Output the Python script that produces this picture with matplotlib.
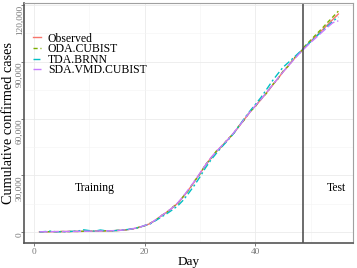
import matplotlib
matplotlib.use("Agg")
import matplotlib.pyplot as plt
from matplotlib.ticker import FuncFormatter, MultipleLocator

days = list(range(1, 56))

observed = [250, 290, 320, 350, 380, 410, 440, 470, 510, 560,
            610, 670, 740, 820, 920, 1100, 1400, 1900, 2600, 3500,
            4600, 6500, 8600, 10600, 12800, 15400, 18700, 22600, 26600, 31000,
            35300, 39300, 42600, 45700, 48700, 52000, 55600, 59500, 63200, 66600,
            69900, 73500, 77100, 80800, 84500, 88000, 91400, 94700, 97700, 100700,
            103500, 106400, 109300, 112200, 115100]

oda_cubist = [300, 250, 380, 300, 420, 380, 500, 430, 560, 520,
              680, 620, 800, 760, 980, 1050, 1500, 1850, 2700, 3400,
              4800, 6300, 8800, 10400, 13100, 15200, 19000, 22300, 27000, 30700,
              35700, 39000, 43000, 45400, 49100, 51700, 56000, 59200, 63600, 66300,
              70300, 73200, 77500, 80500, 84900, 87700, 91900, 94400, 98300, 101300,
              104400, 107300, 110500, 113500, 116600]

tda_brnn = [200, 400, 600, 300, 250, 350, 500, 700, 1300, 900,
            600, 1200, 800, 700, 1000, 1200, 1500, 2000, 2500, 3600,
            4400, 6200, 8000, 9800, 11800, 14000, 17000, 20800, 24800, 29200,
            34000, 38200, 41800, 45200, 48400, 51800, 55800, 60000, 63800, 67400,
            71000, 75200, 79500, 83300, 87000, 89600, 92300, 95000, 97800, 100500,
            103200, 105900, 108600, 111200, 113600]

sda_vmd_cubist = [280, 300, 330, 360, 390, 420, 450, 480, 520, 570,
                  620, 680, 750, 830, 940, 1150, 1450, 1950, 2650, 3550,
                  4650, 6600, 8700, 10700, 12900, 15600, 19000, 22900, 26900, 31200,
                  35500, 39400, 42700, 45800, 48800, 52100, 55700, 59600, 63300, 66700,
                  70000, 73600, 77200, 80900, 84500, 87900, 91200, 94400, 97300, 100100,
                  102700, 105400, 108000, 110500, 111500]

split_day = 48.6

plt.rcParams['font.family'] = ['Liberation Serif', 'DejaVu Serif']

fig = plt.figure(figsize=(3.57, 2.68), dpi=100)
ax = fig.add_axes([0.0686, 0.0944, 0.9210, 0.8955])

series = [
    ("Observed", observed, "#F8766D", "-"),
    ("ODA.CUBIST", oda_cubist, "#7CAE00", (0, (3, 2))),
    ("TDA.BRNN", tda_brnn, "#00BFC4", (0, (5, 2, 1.5, 2))),
    ("SDA.VMD.CUBIST", sda_vmd_cubist, "#C77CFF", (0, (6, 2))),
]
for name, vals, col, ls in series:
    ax.plot(days, vals, color=col, linestyle=ls, linewidth=1.0, label=name)

ax.axvline(split_day, color="#444444", linewidth=1.1)

ax.text(11, 23400, "Training", ha="center", va="center", fontsize=8.4)
ax.text(54.6, 23400, "Test", ha="center", va="center", fontsize=8.4)

ax.set_xlim(-1.7, 57.7)
ax.set_ylim(-5484, 121055)
ax.xaxis.set_major_locator(MultipleLocator(20))
ax.xaxis.set_minor_locator(MultipleLocator(10))
ax.yaxis.set_major_locator(MultipleLocator(30000))
ax.yaxis.set_minor_locator(MultipleLocator(15000))
ax.yaxis.set_major_formatter(FuncFormatter(lambda v, p: f"{int(v):,}"))

ax.grid(which="major", color="#EBEBEB", linewidth=0.6)
ax.grid(which="minor", color="#F4F4F4", linewidth=0.4)
ax.set_axisbelow(True)

for s in ["top", "right"]:
    ax.spines[s].set_color("#A0A0A0")
    ax.spines[s].set_linewidth(0.8)
for s in ["left", "bottom"]:
    ax.spines[s].set_color("#555555")
    ax.spines[s].set_linewidth(1.2)

ax.tick_params(which="major", length=2, width=0.6, color="#666666",
               labelsize=6.7, labelcolor="#777777", pad=1.5)
ax.tick_params(which="minor", length=0)
for lab in ax.get_yticklabels():
    lab.set_rotation(90)
    lab.set_va("top")
    lab.set_ha("center")

ax.set_xlabel("Day", fontsize=9.5, labelpad=0)
ax.set_ylabel("Cumulative confirmed cases", fontsize=10.3, labelpad=0.5)

ax.legend(loc="upper left", bbox_to_anchor=(0.01, 0.895), frameon=False,
          fontsize=8.5, handlelength=0.7, handletextpad=0.6,
          labelspacing=-0.12, borderaxespad=0)

fig.savefig("out.png", dpi=100)
